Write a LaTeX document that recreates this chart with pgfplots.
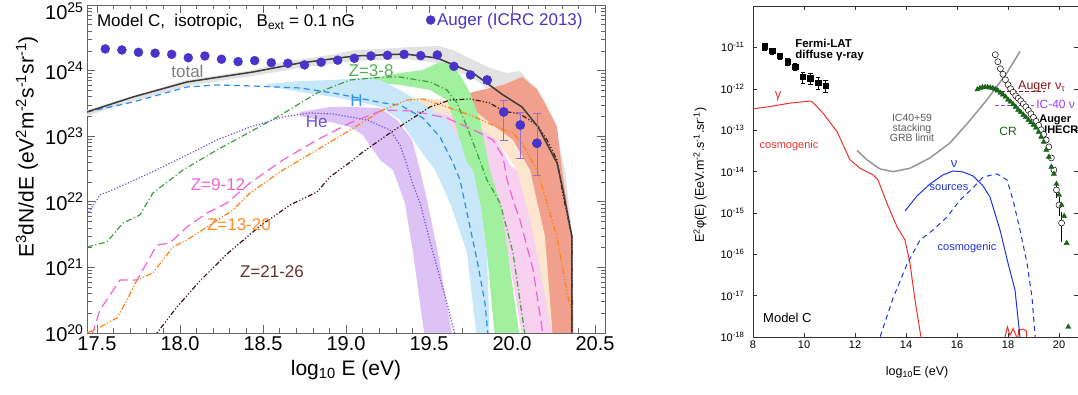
\documentclass[border=0pt]{standalone}
\usepackage{fontspec}
\setmainfont{Liberation Sans}
\usepackage{pgfplots}
\pgfplotsset{compat=1.18}
\definecolor{augerblue}{RGB}{72,52,200}
\definecolor{errpurple}{RGB}{150,110,210}
\definecolor{axisgray}{RGB}{100,100,100}
\definecolor{totband}{RGB}{226,226,226}
\definecolor{totline}{RGB}{60,60,60}
\definecolor{hband}{RGB}{200,232,250}
\definecolor{hline}{RGB}{40,140,240}
\definecolor{heband}{RGB}{221,194,246}
\definecolor{heline}{RGB}{112,80,224}
\definecolor{gband}{RGB}{160,240,160}
\definecolor{gline}{RGB}{60,160,60}
\definecolor{pband}{RGB}{248,208,240}
\definecolor{pline}{RGB}{240,100,210}
\definecolor{oband}{RGB}{252,230,205}
\definecolor{oline}{RGB}{255,130,20}
\definecolor{sband}{RGB}{240,160,140}
\definecolor{bline}{RGB}{60,20,20}
\definecolor{gammared}{RGB}{235,50,40}
\definecolor{nublue}{RGB}{30,50,230}
\definecolor{icgray}{RGB}{150,150,150}
\definecolor{augred}{RGB}{140,20,20}
\definecolor{icpurple}{RGB}{160,60,240}
\definecolor{crgreen}{RGB}{25,100,25}
\begin{document}
\begin{tikzpicture}
\useasboundingbox (0,0) rectangle (1078pt,394pt);
%================ LEFT PANEL =================
\begin{axis}[
 at={(87pt,61pt)}, anchor=south west, scale only axis,
 width=518pt, height=328pt,
 xmin=17.44, xmax=20.56, ymode=log, ymin=1e20, ymax=1e25,
 xtick={17.5,18,18.5,19,19.5,20,20.5},
 xticklabels={17.5,18.0,18.5,19.0,19.5,20.0,20.5},
 minor x tick num=4,
 ytick={1e20,1e21,1e22,1e23,1e24},
 yticklabels={10\textsuperscript{20},10\textsuperscript{21},10\textsuperscript{22},10\textsuperscript{23},10\textsuperscript{24}},
 extra y ticks={1e25},
 extra y tick labels={10\textsuperscript{25}},
 extra y tick style={yticklabel style={yshift=-6pt}},
 minor ytick={2e20,3e20,4e20,5e20,6e20,7e20,8e20,9e20,2e21,3e21,4e21,5e21,6e21,7e21,8e21,9e21,2e22,3e22,4e22,5e22,6e22,7e22,8e22,9e22,2e23,3e23,4e23,5e23,6e23,7e23,8e23,9e23,2e24,3e24,4e24,5e24,6e24,7e24,8e24,9e24},
 tick label style={font=\fontsize{20pt}{24pt}\selectfont},
 major tick length=8pt, minor tick length=4.5pt,
 tick style={axisgray, line width=0.6pt},
 axis line style={axisgray, line width=0.8pt},
 xlabel={log\textsubscript{10} E (eV)},
 ylabel={E\textsuperscript{3}dN/dE (eV\textsuperscript{2}m\textsuperscript{-2}s\textsuperscript{-1}sr\textsuperscript{-1})},
 label style={font=\fontsize{21pt}{25pt}\selectfont},
 xlabel style={at={(axis description cs:0.5,-0.113)}, anchor=center},
 ylabel style={at={(axis description cs:-0.116,0.567)}, anchor=center},
 legend style={at={(axis description cs:0.963,0.985)}, anchor=north east, draw=none, fill=none,
   font=\fontsize{17pt}{20pt}\selectfont, inner sep=1pt, nodes={inner sep=2pt}},
 legend image code/.code={\draw[#1] plot coordinates {(3pt,0pt)};},
]
% total band
\addplot[fill=totband, draw=none, forget plot] coordinates {
(17.440,2.51e23)(18.042,7.19e23)(18.440,1.02e24)(18.620,1.35e24)(18.904,1.73e24)(19.054,2.06e24)
(19.205,2.13e24)(19.404,2.29e24)(19.554,2.37e24)(19.645,2.06e24)(19.765,1.45e24)(19.867,1.10e24)
(19.970,9.19e23)(20.048,9.86e23)(20.096,7.19e23)(20.169,3.96e23)(20.247,1.89e23)(20.319,3.05e22)
(20.367,2.62e21)(20.373,6.6e19)
(20.361,6.6e19)(20.319,2.62e21)(20.271,2.56e22)(20.157,1.04e23)(20.054,2.34e23)(19.946,3.56e23)
(19.765,7.71e23)(19.548,1.31e24)(19.355,1.50e24)(19.054,1.40e24)(18.723,1.10e24)(18.440,8.28e23)
(18.042,5.82e23)(17.717,3.44e23)(17.440,2.03e23)} -- cycle;
% Z=21-26 band
\addplot[fill=sband, draw=none, forget plot] coordinates {
(19.657,3.82e23)(19.765,4.72e23)(19.946,6.04e23)(20.060,7.98e23)(20.151,5.24e23)(20.211,2.79e23)
(20.271,1.38e23)(20.301,3.05e22)(20.361,2.90e21)(20.361,6.6e19)
(20.217,6.6e19)(20.139,2.90e21)(20.078,3.05e22)(19.988,8.75e22)(19.867,1.59e23)(19.747,2.69e23)} -- cycle;
% Z=13-20 band
\addplot[fill=oband, draw=none, forget plot] coordinates {
(19.265,3.32e23)(19.404,3.82e23)(19.608,3.56e23)(19.747,2.79e23)(19.867,1.59e23)(20.006,8.75e22)
(20.108,3.05e22)(20.199,2.90e21)(20.247,7.8e19)
(20.229,6.6e19)(20.108,9.12e20)(20.066,9.59e21)(20.030,3.05e22)(19.910,8.75e22)(19.705,1.59e23)
(19.506,2.26e23)(19.265,3.10e23)} -- cycle;
% Z=9-12 band
\addplot[fill=pband, draw=none, forget plot] coordinates {
(19.325,2.69e23)(19.566,2.26e23)(19.747,1.65e23)(19.910,8.75e22)(19.988,3.64e22)(20.030,3.05e22)
(20.108,5.28e21)(20.151,1.66e21)(20.247,7.8e19)
(20.066,7.8e19)(19.976,1.66e21)(19.898,1.06e22)(19.807,2.56e22)(19.747,4.34e22)(19.687,8.75e22)
(19.608,1.33e23)(19.446,1.89e23)(19.325,2.34e23)} -- cycle;
% Z=3-8 band
\addplot[fill=gband, draw=none, forget plot] coordinates {
(19.102,7.71e23)(19.205,7.98e23)(19.325,9.19e23)(19.464,1.02e24)(19.554,1.31e24)(19.639,1.31e24)
(19.705,7.19e23)(19.747,4.56e23)(19.807,1.77e23)(19.867,3.05e22)(19.928,9.59e21)(19.976,1.66e21)
(20.048,7.8e19)
(19.898,7.8e19)(19.849,1.66e21)(19.807,9.59e21)(19.747,2.15e22)(19.669,1.24e23)(19.608,3.56e23)
(19.506,5.06e23)(19.325,6.04e23)(19.205,6.47e23)(19.102,6.94e23)} -- cycle;
% H band
\addplot[fill=hband, draw=none, forget plot] coordinates {
(18.524,6.25e23)(18.723,6.94e23)(18.922,7.19e23)(19.084,7.71e23)(19.205,7.19e23)(19.325,5.06e23)
(19.476,2.99e23)(19.608,1.77e23)(19.687,8.75e22)(19.729,3.90e22)(19.765,3.05e22)(19.807,9.59e21)
(19.849,1.66e21)(19.867,7.8e19)
(19.789,7.8e19)(19.729,1.66e21)(19.627,9.59e21)(19.536,3.05e22)(19.446,6.17e22)(19.325,1.77e23)
(19.205,2.79e23)(19.084,3.32e23)(18.922,3.96e23)(18.723,4.72e23)(18.524,5.82e23)} -- cycle;
% He band
\addplot[fill=heband, draw=none, forget plot] coordinates {
(18.723,2.34e23)(18.904,2.79e23)(19.024,2.79e23)(19.205,2.69e23)(19.307,1.77e23)(19.398,8.75e22)
(19.446,3.05e22)(19.488,1.06e22)(19.554,1.66e21)(19.645,7.8e19)
(19.476,7.8e19)(19.404,1.66e21)(19.355,9.59e21)(19.283,3.05e22)(19.205,4.34e22)(19.102,1.04e23)
(19.024,1.38e23)(18.904,1.65e23)(18.723,2.03e23)} -- cycle;
% H line
\addplot[hline, line width=1.2pt, dash pattern=on 6pt off 4pt, forget plot] coordinates {
(17.440,2.34e23)(17.717,3.32e23)(18.042,5.62e23)(18.223,6.04e23)(18.440,5.82e23)(18.723,5.43e23)
(18.922,4.56e23)(19.223,3.21e23)(19.325,2.99e23)(19.464,1.89e23)(19.566,9.73e22)(19.645,3.90e22)
(19.687,2.15e22)(19.729,6.75e21)(19.789,1.30e21)(19.837,2.86e20)(19.855,9.3e19)};
% He line
\addplot[heline, line width=1.2pt, dash pattern=on 1.2pt off 1.8pt, forget plot] coordinates {
(17.440,6.30e21)(17.518,1.27e22)(17.620,1.62e22)(17.819,2.75e22)(18.018,4.82e22)(18.223,8.75e22)
(18.422,1.38e23)(18.620,1.96e23)(18.783,2.26e23)(18.922,2.18e23)(19.127,1.77e23)(19.265,1.24e23)
(19.325,7.35e22)(19.367,3.64e22)(19.404,1.80e22)(19.446,9.59e21)(19.524,1.66e21)(19.608,2.86e20)
(19.657,9.3e19)};
% Z=3-8 line
\addplot[gline, line width=1.2pt, dash pattern=on 6pt off 2.5pt on 1.2pt off 2.5pt, forget plot] coordinates {
(17.440,2.05e21)(17.560,2.44e21)(17.657,4.75e21)(17.759,6.30e21)(17.837,1.36e22)(18.018,3.05e22)
(18.223,6.17e22)(18.422,1.16e23)(18.620,2.2e23)(18.825,4.56e23)(19.024,7.19e23)(19.223,7.98e23)
(19.325,7.98e23)(19.506,6.70e23)(19.608,5.06e23)(19.669,3.21e23)(19.729,1.38e23)(19.789,5.55e22)
(19.849,2.15e22)(19.928,9.59e21)(20.006,1.66e21)(20.078,9.3e19)};
% Z=9-12 line
\addplot[pline, line width=1.2pt, dash pattern=on 10pt off 5pt, forget plot] coordinates {
(17.470,9.3e19)(17.518,2.24e20)(17.639,6.43e20)(17.741,6.43e20)(17.861,2.19e21)(17.940,2.36e21)
(18.042,4.13e21)(18.163,6.75e21)(18.283,9.59e21)(18.422,1.94e22)(18.620,4.34e22)(18.825,8.75e22)
(19.024,1.59e23)(19.223,2.51e23)(19.404,2.42e23)(19.608,1.89e23)(19.807,1.12e23)(19.886,8.75e22)
(19.946,4.82e22)(19.970,2.15e22)(20.006,1.06e22)(20.048,5.28e21)(20.127,9.12e20)(20.187,9.3e19)};
% Z=13-20 line
\addplot[oline, line width=1.2pt, dash pattern=on 6pt off 2pt on 1.2pt off 2pt on 1.2pt off 2pt, forget plot] coordinates {
(17.440,1.0e20)(17.518,1.23e20)(17.620,1.69e20)(17.681,3.18e20)(17.741,6.43e20)(17.837,8.22e20)
(17.958,2.05e21)(18.042,2.62e21)(18.163,4.13e21)(18.319,7.50e21)(18.422,1.36e22)(18.620,3.05e22)
(18.825,6.17e22)(19.024,1.24e23)(19.223,2.51e23)(19.367,3.56e23)(19.464,3.69e23)(19.608,2.79e23)
(19.747,2.10e23)(19.910,1.38e23)(20.006,1.12e23)(20.060,7.87e22)(20.151,3.05e22)(20.211,9.59e21)
(20.271,2.90e21)(20.337,3.54e20)(20.361,2.24e20)(20.361,7.8e19)};
% Z=21-26 line
\addplot[bline, line width=1.2pt, dash pattern=on 5pt off 2pt on 1.2pt off 2pt on 1.2pt off 2pt on 1.2pt off 2pt, forget plot] coordinates {
(17.831,7.3e19)(17.861,1.0e20)(17.982,2.49e20)(18.120,6.21e20)(18.283,1.60e21)(18.482,4.28e21)
(18.663,8.93e21)(18.825,1.41e22)(18.904,2.4e22)(19.024,4.0e22)(19.104,5.8e22)(19.265,1.12e23)
(19.506,2.79e23)(19.627,3.56e23)(19.747,3.69e23)(19.867,3.21e23)(19.946,2.42e23)(20.048,2.18e23)
(20.151,1.48e23)(20.211,8.75e22)(20.271,4.34e22)(20.307,1.27e22)(20.361,2.90e21)(20.361,7.8e19)};
% total line
\addplot[totline, line width=1.5pt, forget plot] coordinates {
(17.440,2.34e23)(17.717,3.96e23)(18.042,6.70e23)(18.440,9.52e23)(18.723,1.306e24)(19.054,1.67e24)
(19.355,1.79e24)(19.548,1.556e24)(19.765,9.19e23)(19.946,4.25e23)(20.060,2.79e23)(20.157,1.38e23)
(20.271,3.90e22)(20.307,1.51e22)(20.361,2.91e21)(20.361,1e19)};
% Auger error bars
\addplot[only marks, mark=*, mark size=4.5pt, color=augerblue, forget plot,
  error bars/.cd, y dir=both, y explicit,
  error bar style={color=errpurple, line width=0.8pt},
  error mark options={rotate=90, mark size=4pt, color=errpurple, line width=0.8pt}]
coordinates {
(19.85,7.19e23) += (0,0.72e23) -= (0,0.79e23)
(19.95,2.34e23) += (0,1.22e23) -= (0,1.49e23)
(20.05,1.48e23) += (0,0.80e23) -= (0,1.02e23)
(20.15,7.80e22) += (0,1.45e23) -= (0,0.524e23)
};
% Auger points
\addplot[only marks, mark=*, mark size=4.5pt, color=augerblue] coordinates {
(17.55,2.14e24)(17.65,2.06e24)(17.75,1.90e24)(17.85,1.84e24)(17.95,1.77e24)(18.05,1.57e24)
(18.15,1.67e24)(18.25,1.49e24)(18.35,1.37e24)(18.45,1.42e24)(18.55,1.32e24)(18.65,1.29e24)
(18.75,1.22e24)(18.85,1.34e24)(18.95,1.44e24)(19.05,1.54e24)(19.15,1.67e24)(19.25,1.71e24)
(19.35,1.77e24)(19.45,1.69e24)(19.55,1.73e24)(19.65,1.16e24)(19.75,8.57e23)(19.85,7.19e23)
(19.95,2.34e23)(20.05,1.48e23)(20.15,7.80e22)};
\addlegendentry{\textcolor{augerblue}{Auger (ICRC 2013)}}
% annotations
\node[anchor=base west, inner sep=0pt, font=\fontsize{17pt}{20pt}\selectfont] at (axis description cs:0.019,0.933)
  {Model C,\ \ isotropic,\ \ \ B\textsubscript{ext} = 0.1 nG};
\node[font=\fontsize{17pt}{20pt}\selectfont, text={rgb,255:red,128;green,128;blue,128}] at (axis cs:18.045,9.86e23) {total};
\node[font=\fontsize{17pt}{20pt}\selectfont, text={rgb,255:red,80;green,175;blue,80}] at (axis cs:19.151,9.86e23) {Z=3-8};
\node[font=\fontsize{17pt}{20pt}\selectfont, text={rgb,255:red,50;green,150;blue,240}] at (axis cs:19.063,3.50e23) {H};
\node[font=\fontsize{17pt}{20pt}\selectfont, text={rgb,255:red,110;green,80;blue,210}] at (axis cs:18.823,1.66e23) {He};
\node[font=\fontsize{17pt}{20pt}\selectfont, text={rgb,255:red,240;green,100;blue,210}] at (axis cs:18.229,1.80e22) {Z=9-12};
\node[font=\fontsize{17pt}{20pt}\selectfont, text={rgb,255:red,255;green,140;blue,40}] at (axis cs:18.355,4.43e21) {Z=13-20};
\node[font=\fontsize{17pt}{20pt}\selectfont, text={rgb,255:red,100;green,50;blue,50}] at (axis cs:18.554,8.51e20) {Z=21-26};
\end{axis}
%================ RIGHT PANEL =================
\begin{axis}[
 at={(753pt,57pt)}, anchor=south west, scale only axis,
 width=325pt, height=331pt,
 xmin=8, xmax=20.745, ymode=log, ymin=1e-18, ymax=1e-10,
 xtick={8,10,12,14,16,18,20},
 xticklabels={8,10,12,14,16,18,20},
 ytick={1e-18,1e-17,1e-16,1e-15,1e-14,1e-13,1e-12,1e-11},
 yticklabels={10\textsuperscript{-18},10\textsuperscript{-17},10\textsuperscript{-16},10\textsuperscript{-15},10\textsuperscript{-14},10\textsuperscript{-13},10\textsuperscript{-12},10\textsuperscript{-11}},
 yminorticks=false, xminorticks=false,
 tick label style={font=\fontsize{11pt}{13pt}\selectfont},
 yticklabel style={xshift=-5pt},
 major tick length=4pt,
 tick style={black!80, line width=0.5pt},
 axis line style={black!80, line width=0.6pt},
 xlabel={log\textsubscript{10}E (eV)},
 ylabel={E\textsuperscript{2}φ(E) (EeV.m\textsuperscript{-2}.s\textsuperscript{-1}.sr\textsuperscript{-1})},
 label style={font=\fontsize{12.5pt}{15pt}\selectfont},
 xlabel style={at={(axis description cs:0.505,-0.106)}, anchor=center},
 ylabel style={at={(axis description cs:-0.163,0.489)}, anchor=center},
]
% IC40+59 limit
\addplot[icgray, line width=1.5pt] coordinates {
(12.078,3.24e-14)(12.471,1.91e-14)(12.980,1.15e-14)(13.490,9.93e-15)(14.157,1.20e-14)(14.941,2.13e-14)
(15.725,4.92e-14)(16.392,1.42e-13)(17.176,5.41e-13)(17.961,2.44e-12)(18.471,8.0e-12)};
% cosmogenic gamma
\addplot[gammared, line width=1pt] coordinates {
(8.0,3.27e-13)(8.667,3.72e-13)(9.451,4.50e-13)(10.235,5.04e-13)(10.353,4.66e-13)(10.745,2.58e-13)
(11.294,9.23e-14)(11.804,1.91e-14)(12.196,1.20e-14)(12.706,8.26e-15)(12.902,6.25e-15)(13.255,1.70e-15)
(13.647,4.62e-16)(13.961,2.20e-16)(14.157,6.0e-17)(14.353,7.76e-18)(14.588,9.8e-19)(14.667,4.8e-19)};
\addplot[gammared, line width=1pt] coordinates {
(17.88,1.0e-18)(17.98,1.75e-18)(18.08,1.1e-18)(18.2,1.6e-18)(18.34,1.0e-18)};
\addplot[gammared, line width=1pt] coordinates {
(18.39,1.0e-18)(18.42,1.5e-18)(18.6,1.55e-18)(18.72,1.4e-18)(18.73,1.0e-18)};
% neutrinos from sources
\addplot[nublue, line width=1pt] coordinates {
(13.961,1.11e-15)(14.431,2.56e-15)(14.941,5.0e-15)(15.451,8.26e-15)(15.843,1.03e-14)(16.235,9.75e-15)
(16.627,7.82e-15)(17.020,4.48e-15)(17.294,2.42e-15)(17.686,3.85e-16)(18.0,6.1e-17)(18.275,1.36e-17)
(18.471,9.8e-19)(18.549,4.8e-19)};
% cosmogenic neutrinos
\addplot[nublue, line width=1pt, dash pattern=on 5pt off 4pt] coordinates {
(12.902,6.3e-19)(12.980,9.84e-19)(13.490,8.67e-18)(14.039,5.77e-17)(14.549,2.20e-16)(15.059,3.85e-16)
(15.608,7.94e-16)(16.118,2.05e-15)(16.627,4.0e-15)(17.020,7.38e-15)(17.569,8.73e-15)(17.961,6.25e-15)
(18.196,2.05e-15)(18.471,3.85e-16)(18.745,6.1e-17)(18.941,9.16e-18)(19.059,1.10e-18)(19.098,6.3e-19)};
% Auger nu_tau and IC-40 limits
\addplot[augred, line width=1.2pt, dash pattern=on 4pt off 2pt] coordinates {(17.49,8.45e-13)(19.45,8.45e-13)};
\addplot[icpurple, line width=1.2pt, dash pattern=on 4pt off 2pt] coordinates {(17.49,3.87e-13)(19.0,3.87e-13)};
% Fermi-LAT
\addplot[only marks, mark=square*, mark size=2.7pt, black,
  error bars/.cd, y dir=both, y explicit relative,
  error bar style={black, line width=0.6pt},
  error mark options={rotate=90, mark size=2.2pt, black}] coordinates {
(8.45,1.06e-11) +- (0,0.2) (8.75,8.32e-12) +- (0,0.18) (9.05,6.30e-12) +- (0,0.18)
(9.35,4.58e-12) +- (0,0.18) (9.65,3.47e-12) +- (0,0.2) (9.95,1.98e-12) +- (0,0.3)
(10.25,1.82e-12) +- (0,0.3) (10.55,1.42e-12) +- (0,0.32) (10.85,1.20e-12) +- (0,0.32)};
% Auger UHECR (open circles)
\addplot[only marks, mark=*, mark size=3pt, mark options={fill=white, draw=black, line width=0.5pt}] coordinates {
(17.5,6.65e-12)(17.6,4.50e-12)(17.7,3.05e-12)(17.8,2.24e-12)(17.9,1.65e-12)(18.0,1.25e-12)
(18.1,1.0e-12)(18.2,8.22e-13)(18.3,6.76e-13)(18.4,5.88e-13)(18.5,5.12e-13)(18.6,4.33e-13)
(18.7,3.66e-13)(18.8,3.01e-13)(18.9,2.48e-13)(19.0,2.04e-13)(19.1,1.63e-13)(19.2,1.31e-13)
(19.3,1.02e-13)(19.4,7.91e-14)(19.5,5.81e-14)(19.6,3.94e-14)(19.7,2.13e-14)(19.8,1.09e-14)};
\addplot[only marks, mark=*, mark size=3pt, mark options={fill=white, draw=black, line width=0.5pt},
  error bars/.cd, y dir=both, y explicit relative,
  error bar style={black, line width=0.6pt}, error mark=none] coordinates {
(19.9,3.59e-15) += (0,0.5) -= (0,0.35)
(20.0,1.55e-15) += (0,0.6) -= (0,0.45)
(20.1,5.68e-16) += (0,0.88) -= (0,0.65)};
% CR (green triangles)
\addplot[only marks, mark=triangle*, mark size=3pt, color=crgreen] coordinates {
(16.8,9.62e-13)(16.9,1.03e-12)(17.0,1.08e-12)(17.1,1.09e-12)(17.2,1.09e-12)(17.3,1.06e-12)
(17.4,1.03e-12)(17.5,9.71e-13)(17.6,9.03e-13)(17.7,8.0e-13)(17.8,7.23e-13)(17.9,6.40e-13)
(18.0,5.41e-13)(18.1,4.84e-13)(18.2,4.21e-13)(18.3,3.66e-13)(18.4,3.10e-13)(18.5,2.72e-13)
(18.6,2.34e-13)(18.7,2.05e-13)(18.8,1.77e-13)(18.9,1.54e-13)(19.0,1.34e-13)(19.1,1.14e-13)
(19.2,9.08e-14)(19.3,6.87e-14)(19.4,5.20e-14)(19.5,3.33e-14)(19.6,2.25e-14)(19.7,1.29e-14)
(19.8,8.75e-15)(19.9,5.0e-15)(20.0,2.71e-15)(20.1,1.55e-15)(20.2,8.38e-16)(20.3,1.86e-16)
(20.365,1.75e-18)};
% annotations
\node[anchor=north west, align=left, inner sep=0pt, font=\bfseries\fontsize{11.5pt}{11pt}\selectfont] at (axis cs:9.65,1.62e-11) {Fermi-LAT\\diffuse γ-ray};
\node[text=gammared, font=\fontsize{13pt}{15pt}\selectfont] at (axis cs:8.98,6.40e-13) {γ};
\node[text=gammared, font=\fontsize{11pt}{13pt}\selectfont] at (axis cs:9.412,4.16e-14) {cosmogenic};
\node[text={rgb,255:red,90;green,90;blue,90}, align=center, font=\fontsize{10.5pt}{10pt}\selectfont] at (axis cs:14.235,1.13e-13) {IC40+59\\stacking\\GRB limit};
\node[text=nublue, font=\fontsize{13pt}{15pt}\selectfont] at (axis cs:15.882,1.52e-14) {ν};
\node[text=nublue, font=\fontsize{11pt}{13pt}\selectfont] at (axis cs:15.686,4.0e-15) {sources};
\node[text=nublue, font=\fontsize{11pt}{13pt}\selectfont] at (axis cs:16.392,1.41e-16) {cosmogenic};
\node[text=crgreen, font=\fontsize{12pt}{14pt}\selectfont] at (axis cs:18.0,9.08e-14) {CR};
\node[anchor=north west, align=left, inner sep=0pt, font=\bfseries\fontsize{11pt}{10.5pt}\selectfont] at (axis cs:19.22,2.34e-13) {Auger\\UHECR};
\node[anchor=base west, inner sep=0pt, text=augred, font=\fontsize{12.5pt}{14pt}\selectfont] at (axis cs:18.392,9.44e-13) {Auger ν\textsubscript{τ}};
\node[anchor=west, inner sep=0pt, text=icpurple, font=\fontsize{12pt}{14pt}\selectfont] at (axis cs:19.10,4.09e-13) {IC-40 ν};
\node[anchor=west, inner sep=0pt, font=\fontsize{13pt}{15pt}\selectfont] at (axis cs:8.392,2.84e-18) {Model C};
\end{axis}
\end{tikzpicture}
\end{document}
